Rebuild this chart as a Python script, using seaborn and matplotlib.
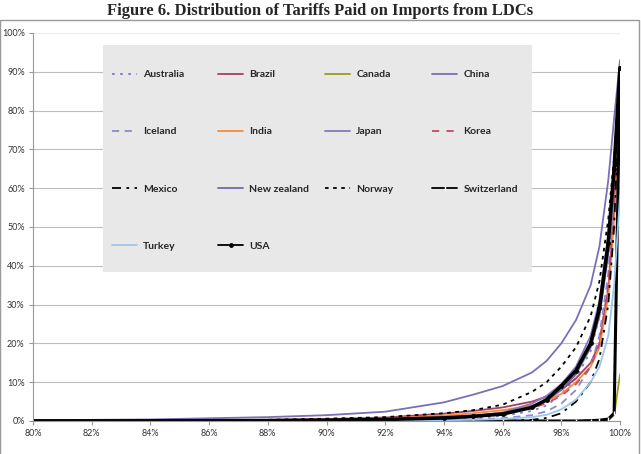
import numpy as np
import pandas as pd
import matplotlib.pyplot as plt
from matplotlib.patches import Rectangle
import seaborn as sns

#share of tariff lines (x) vs tariff paid (y), in %
share = [80, 84, 88, 90, 92, 94, 95, 96, 97, 97.5, 98, 98.5, 99, 99.3, 99.6, 99.8, 100]

australia = [0, 0, 0, 0.1, 0.2, 0.5, 0.8, 1.3, 2.6, 4, 7, 11, 18, 27, 45, 64, 89]
brazil = [0, 0.1, 0.3, 0.5, 0.9, 1.9, 2.6, 3.5, 5.0, 6.3, 8, 11, 15, 20, 34, 55, 85]
canada = [0, 0, 0, 0, 0, 0, 0, 0, 0, 0, 0, 0, 0, 0, 0.2, 1.5, 12]
china = [0.2, 0.4, 1.0, 1.5, 2.4, 4.8, 6.8, 9.0, 12.5, 15.5, 20, 26, 35, 45, 62, 78, 93]
iceland = [0, 0, 0, 0, 0.1, 0.2, 0.4, 0.7, 1.5, 2.5, 4.5, 8, 14, 22, 38, 58, 87]
india = [0, 0.1, 0.2, 0.4, 0.7, 1.4, 2.0, 2.8, 4.0, 5.2, 7, 10, 14, 19, 32, 52, 80]
japan = [0, 0, 0.1, 0.2, 0.4, 0.9, 1.4, 2.2, 4.5, 6.5, 9.5, 14, 22, 31, 48, 66, 90]
korea = [0, 0, 0.1, 0.2, 0.4, 0.9, 1.3, 2.0, 3.3, 4.6, 6.5, 9.5, 14, 20, 35, 56, 84]
mexico = [0, 0, 0, 0, 0, 0, 0, 0.05, 0.3, 0.8, 2, 5, 10, 16, 30, 50, 88]
new_zealand = [0, 0, 0.1, 0.2, 0.3, 0.7, 1.1, 1.8, 3.5, 5.2, 8, 12, 19, 27, 43, 62, 89]
norway = [0, 0.1, 0.3, 0.6, 1.0, 2.0, 2.8, 4.2, 7.5, 10, 14, 19, 27, 36, 52, 68, 90]
switzerland = [0, 0, 0, 0, 0, 0, 0, 0, 0, 0, 0, 0, 0.1, 0.2, 0.5, 2, 90]
turkey = [0, 0, 0, 0, 0.1, 0.2, 0.3, 0.5, 1.0, 1.6, 3, 5.5, 10, 14, 22, 35, 58]
usa = [0, 0, 0.1, 0.2, 0.4, 0.8, 1.2, 1.8, 3.5, 5.5, 9, 13, 20, 29, 46, 65, 91]

countries = ['Australia', 'Brazil', 'Canada', 'China', 'Iceland', 'India', 'Japan',
             'Korea', 'Mexico', 'New zealand', 'Norway', 'Switzerland', 'Turkey', 'USA']
values = [australia, brazil, canada, china, iceland, india, japan,
          korea, mexico, new_zealand, norway, switzerland, turkey, usa]

#line looks for each country
colours_dict = {'Australia': '#7E7EC4', 'Brazil': '#A3405E', 'Canada': '#9C9C22',
                'China': '#7A70B4', 'Iceland': '#8A8ACC', 'India': '#F58A3E',
                'Japan': '#8678BC', 'Korea': '#C24A62', 'Mexico': 'black',
                'New zealand': '#7468AE', 'Norway': 'black', 'Switzerland': 'black',
                'Turkey': '#9CC6EE', 'USA': 'black'}
dash_dict = {'Australia': (0, (1.5, 3)), 'Iceland': (0, (4, 3)), 'Korea': (0, (4, 4)),
             'Mexico': (0, (5, 3, 1.5, 3)), 'Norway': (0, (2, 2.5))}
thick_dict = {c: 1.3 for c in countries}
thick_dict.update({'USA': 2.6, 'Switzerland': 2.2})

sns.set_theme(style='white')
plt.rcParams['font.family'] = ['Lato', 'DejaVu Sans']

fig = plt.figure(figsize=(6.41, 4.54), dpi=100)
ax = fig.add_axes([33 / 641, 1 - 421 / 454, 587 / 641, 388 / 454])

for country, vals in zip(countries, values):
    kw = {}
    if country == 'USA':
        kw = dict(marker='o', markersize=3.5, markeredgewidth=0)
    elif country == 'Switzerland':
        kw = dict(marker='|', markersize=3, markeredgewidth=1)
    sns.lineplot(x=share, y=vals, ax=ax, label=country, color=colours_dict[country],
                 linewidth=thick_dict[country], linestyle=dash_dict.get(country, '-'),
                 sort=False, legend=False, **kw)

ax.set_xlim(80, 100)
ax.set_ylim(0, 100)
ax.set_xticks(np.arange(80, 101, 2))
ax.set_xticklabels([f'{t}%' for t in range(80, 101, 2)], fontsize=6.5, color='#333333')
ax.set_yticks(np.arange(0, 101, 10))
ax.set_yticklabels([f'{t}%' for t in range(0, 101, 10)], fontsize=6.5, color='#333333')
ax.tick_params(axis='both', length=3, width=0.8, color='#999999', pad=3, direction='out',
               bottom=True, left=True)
ax.yaxis.grid(True, color='#BDBDBD', linewidth=0.8)
ax.get_ygridlines()[-1].set_color('#EBEBEB')
ax.xaxis.grid(False)
ax.set_axisbelow(True)
for side in ['top', 'right']:
    ax.spines[side].set_visible(False)
for side in ['left', 'bottom']:
    ax.spines[side].set_color('#999999')
    ax.spines[side].set_linewidth(0.8)

#grey legend panel, then the four legend columns laid out row by row like excel
ax.add_patch(Rectangle((70 / 587, 0.384), 0.73, 0.585, transform=ax.transAxes,
                       facecolor='#E8E8E8', edgecolor='none', zorder=1))
lines = {line.get_label(): line for line in ax.get_lines()}
col_x = [112, 218, 325, 432]
for i, x0 in enumerate(col_x):
    names = countries[i::4]
    leg = ax.legend([lines[n] for n in names], names, loc='upper left',
                    bbox_to_anchor=((x0 - 33) / 587, 0.905), borderpad=0, borderaxespad=0,
                    prop={'weight': 'bold', 'size': 7.5}, labelspacing=4.6,
                    handlelength=2.4, handletextpad=0.6, frameon=False)
    for h in leg.get_lines():
        h.set_linewidth(1.3)
    if i < len(col_x) - 1:
        ax.add_artist(leg)

#outer chart border and title
fig.patches.append(Rectangle((0, -0.01), 639 / 641, 1 - 20 / 454 + 0.01, transform=fig.transFigure,
                             fill=False, edgecolor='#9A9A9A', linewidth=1))
fig.text(0.5, 1 - 11 / 454, 'Figure 6. Distribution of Tariffs Paid on Imports from LDCs',
         ha='center', va='center', fontsize=12, fontweight='bold', family='Liberation Serif')

fig.savefig('out.png', dpi=100)
